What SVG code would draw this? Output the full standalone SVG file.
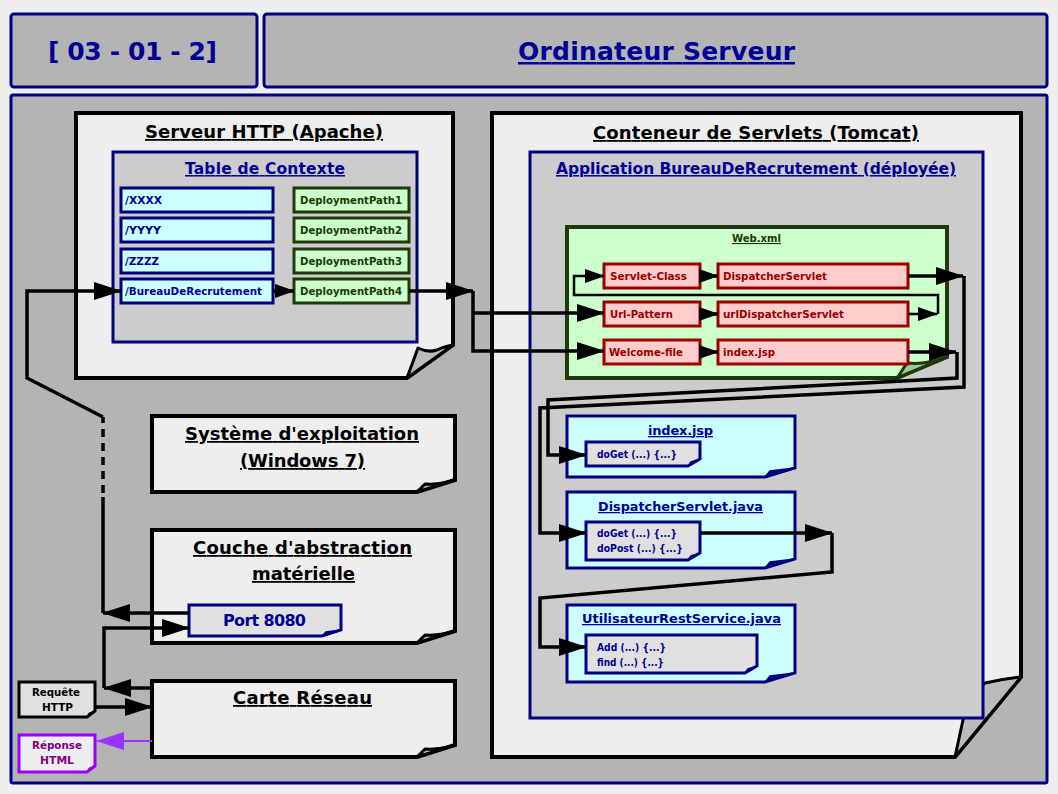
<svg xmlns="http://www.w3.org/2000/svg" width="1058" height="794" viewBox="0 0 1058 794">
<style>
text{font-family:"DejaVu Sans","Liberation Sans",Arial,sans-serif;font-weight:bold}
.hdr{fill:#b4b4b4;stroke:#000080;stroke-width:3}
.note{fill:#eeeeee;stroke:#000;stroke-width:4;stroke-linejoin:miter}
.flap{fill:#bbbbbb;stroke:#000;stroke-width:3;stroke-linejoin:round}
.cont{fill:#cccccc;stroke:#000080;stroke-width:3}
.cy{fill:#ccffff;stroke:#000080;stroke-width:3}
.gr{fill:#ccffcc;stroke:#1e3a0c;stroke-width:3}
.rd{fill:#ffcccc;stroke:#990000;stroke-width:3}
.meth{fill:#e0e0e0;stroke:#000080;stroke-width:3}
.nflap{fill:#000080;stroke:#000080;stroke-width:1.5}
.big{font-size:18px;fill:#000;text-decoration:underline}
.navyT{fill:#000099;text-decoration:underline}
.cyT{font-size:11px;fill:#000099}
.grT{font-size:11px;fill:#1a3a00}
.rdT{font-size:11px;fill:#990000}
.mT{font-size:10.5px;fill:#000099}
.ln{fill:none;stroke:#000;stroke-width:3.5}
.thin{fill:none;stroke:#000;stroke-width:2.5}
</style>
<defs>
<marker id="ab" markerUnits="userSpaceOnUse" markerWidth="28" markerHeight="18" refX="27" refY="9" orient="auto"><path d="M0,0 L28,9 L0,18 Z" fill="#000"/></marker>
<marker id="as" markerUnits="userSpaceOnUse" markerWidth="20" markerHeight="14" refX="19" refY="7" orient="auto"><path d="M0,0 L20,7 L0,14 Z" fill="#000"/></marker>
<marker id="ap" markerUnits="userSpaceOnUse" markerWidth="28" markerHeight="18" refX="27" refY="9" orient="auto"><path d="M0,0 L28,9 L0,18 Z" fill="#9933ff"/></marker>
</defs>
<rect x="0" y="0" width="1058" height="794" fill="#eeeeee"/>

<g id="header-code">
<rect class="hdr" x="11" y="14" width="246" height="73" rx="3"/>
<text x="48" y="60" font-size="25" fill="#000099" textLength="169" lengthAdjust="spacing">[ 03 - 01 - 2]</text>
</g>
<g id="header-title">
<rect class="hdr" x="264" y="14" width="783" height="73" rx="3"/>
<text x="518" y="60" font-size="25" fill="#000099" text-decoration="underline" textLength="277" lengthAdjust="spacing">Ordinateur Serveur</text>
</g>
<g id="main-frame">
<rect class="hdr" x="11" y="95" width="1036" height="688" rx="2"/>
</g>

<g id="apache">
<path class="note" d="M76,113 H453 V345 L407,378 H76 Z"/>
<path class="flap" d="M407,378 L418,348 Q428,353 437,350 Q446,346 453,345 Z"/>
<text class="big" x="145" y="138" textLength="238" lengthAdjust="spacing">Serveur HTTP (Apache)</text>
</g>
<g id="table-contexte">
<rect class="cont" x="113" y="152" width="304" height="190"/>
<text class="navyT" x="185" y="174" font-size="15.5" textLength="160" lengthAdjust="spacing">Table de Contexte</text>
</g>
<g id="ctx-xxxx"><rect class="cy" x="121" y="188" width="152" height="24"/><text class="cyT" x="125" y="204" textLength="37" lengthAdjust="spacingAndGlyphs">/XXXX</text></g>
<g id="ctx-yyyy"><rect class="cy" x="121" y="218" width="152" height="24"/><text class="cyT" x="125" y="234" textLength="36" lengthAdjust="spacingAndGlyphs">/YYYY</text></g>
<g id="ctx-zzzz"><rect class="cy" x="121" y="249" width="152" height="24"/><text class="cyT" x="125" y="265" textLength="34" lengthAdjust="spacingAndGlyphs">/ZZZZ</text></g>
<g id="ctx-bureau"><rect class="cy" x="121" y="279" width="152" height="24"/><text class="cyT" x="125" y="295" textLength="137" lengthAdjust="spacingAndGlyphs">/BureauDeRecrutement</text></g>
<g id="dp1"><rect class="gr" x="294" y="188" width="115" height="24"/><text class="grT" x="300" y="204" textLength="102" lengthAdjust="spacingAndGlyphs">DeploymentPath1</text></g>
<g id="dp2"><rect class="gr" x="294" y="218" width="115" height="24"/><text class="grT" x="300" y="234" textLength="102" lengthAdjust="spacingAndGlyphs">DeploymentPath2</text></g>
<g id="dp3"><rect class="gr" x="294" y="249" width="115" height="24"/><text class="grT" x="300" y="265" textLength="102" lengthAdjust="spacingAndGlyphs">DeploymentPath3</text></g>
<g id="dp4"><rect class="gr" x="294" y="279" width="115" height="24"/><text class="grT" x="300" y="295" textLength="102" lengthAdjust="spacingAndGlyphs">DeploymentPath4</text></g>

<g id="os">
<path class="note" d="M152,416 H455 V480 L417,492 H152 Z"/>
<path class="flap" d="M417,492 L425,484 Q440,485 455,480 Z"/>
<text class="big" x="185" y="440" textLength="234" lengthAdjust="spacing">Système d'exploitation</text>
<text class="big" x="240" y="467" textLength="125" lengthAdjust="spacing">(Windows 7)</text>
</g>
<g id="couche">
<path class="note" d="M152,530 H455 V631 L417,643 H152 Z"/>
<path class="flap" d="M417,643 L425,635 Q440,636 455,631 Z"/>
<text class="big" x="193" y="554" textLength="219" lengthAdjust="spacing">Couche d'abstraction</text>
<text class="big" x="252" y="580" textLength="103" lengthAdjust="spacing">matérielle</text>
</g>
<g id="port">
<path class="meth" d="M189,605 H341 V630 L322,636 H189 Z"/>
<path class="nflap" d="M322,636 L326,632 L341,630 Z"/>
<text x="223" y="626" font-size="16" fill="#000099" textLength="83" lengthAdjust="spacing">Port 8080</text>
</g>
<g id="carte">
<path class="note" d="M152,681 H455 V745 L417,757 H152 Z"/>
<path class="flap" d="M417,757 L425,749 Q440,750 455,745 Z"/>
<text class="big" x="233" y="704" textLength="139" lengthAdjust="spacing">Carte Réseau</text>
</g>
<g id="requete">
<path d="M19,682 H95 V711 L87,717 H19 Z" fill="#e0e0e0" stroke="#000" stroke-width="3"/>
<path d="M87,717 L89,713 L95,711 Z" fill="#000" stroke="#000" stroke-width="1"/>
<text x="32" y="696" font-size="10.5" fill="#000" textLength="48" lengthAdjust="spacingAndGlyphs">Requête</text>
<text x="42" y="711" font-size="10.5" fill="#000" textLength="31" lengthAdjust="spacingAndGlyphs">HTTP</text>
</g>
<g id="reponse">
<path d="M19,735 H95 V766 L87,772 H19 Z" fill="#eeeeee" stroke="#9900ff" stroke-width="3"/>
<path d="M87,772 L89,768 L95,766 Z" fill="#9900ff" stroke="#9900ff" stroke-width="1"/>
<text x="32" y="749" font-size="10.5" fill="#800080" textLength="50" lengthAdjust="spacingAndGlyphs">Réponse</text>
<text x="40" y="764" font-size="10.5" fill="#800080" textLength="34" lengthAdjust="spacingAndGlyphs">HTML</text>
</g>

<g id="tomcat">
<path class="note" d="M492,113 H1021 V677 L955,757 H492 Z"/>
<path class="flap" d="M955,757 L963,720 Q972,692 985,683 Q1003,679 1021,677 Z"/>
<text class="big" x="593" y="139" textLength="326" lengthAdjust="spacing">Conteneur de Servlets (Tomcat)</text>
</g>
<g id="application">
<rect class="cont" x="530" y="152" width="453" height="566"/>
<text class="navyT" x="556" y="174" font-size="15.5" textLength="400" lengthAdjust="spacing">Application BureauDeRecrutement (déployée)</text>
</g>
<g id="webxml">
<path d="M567,227 H947 V357 L897,378 H567 Z" fill="#ccffcc" stroke="#1e3a0c" stroke-width="4"/>
<path d="M897,378 L907,363 Q926,365 947,357 Z" fill="#99cc99" stroke="#1e3a0c" stroke-width="3" stroke-linejoin="round"/>
<text x="732" y="242" font-size="11" fill="#1a3a00" text-decoration="underline" textLength="49" lengthAdjust="spacingAndGlyphs">Web.xml</text>
</g>
<g id="servlet-class"><rect class="rd" x="604" y="264" width="96" height="24"/><text class="rdT" x="610" y="280" textLength="77" lengthAdjust="spacingAndGlyphs">Servlet-Class</text></g>
<g id="dispatcher-servlet"><rect class="rd" x="718" y="264" width="190" height="24"/><text class="rdT" x="723" y="280" textLength="104" lengthAdjust="spacingAndGlyphs">DispatcherServlet</text></g>
<g id="url-pattern"><rect class="rd" x="604" y="302" width="96" height="24"/><text class="rdT" x="610" y="318" textLength="63" lengthAdjust="spacingAndGlyphs">Url-Pattern</text></g>
<g id="url-dispatcher"><rect class="rd" x="718" y="302" width="190" height="24"/><text class="rdT" x="723" y="318" textLength="121" lengthAdjust="spacingAndGlyphs">urlDispatcherServlet</text></g>
<g id="welcome-file"><rect class="rd" x="604" y="340" width="96" height="24"/><text class="rdT" x="609" y="356" textLength="74" lengthAdjust="spacingAndGlyphs">Welcome-file</text></g>
<g id="welcome-index"><rect class="rd" x="718" y="340" width="190" height="24"/><text class="rdT" x="723" y="356" textLength="52" lengthAdjust="spacingAndGlyphs">index.jsp</text></g>

<g id="index-jsp">
<path class="cy" d="M567,416 H795 V468 L765,477 H567 Z"/>
<path class="nflap" d="M765,477 L770,471 L795,468 Z"/>
<text class="navyT" x="648" y="435" font-size="13" textLength="65" lengthAdjust="spacing">index.jsp</text>
<path class="meth" d="M586,442 H700 V459 L688,466 H586 Z"/>
<path class="nflap" d="M688,466 L691,462 L700,459 Z"/>
<text class="mT" x="597" y="458" textLength="80" lengthAdjust="spacingAndGlyphs">doGet (...) {...}</text>
</g>
<g id="dispatcher-java">
<path class="cy" d="M567,492 H795 V559 L765,568 H567 Z"/>
<path class="nflap" d="M765,568 L770,562 L795,559 Z"/>
<text class="navyT" x="598" y="511" font-size="13" textLength="165" lengthAdjust="spacingAndGlyphs">DispatcherServlet.java</text>
<path class="meth" d="M586,522 H700 V553 L688,560 H586 Z"/>
<path class="nflap" d="M688,560 L691,556 L700,553 Z"/>
<text class="mT" x="597" y="537" textLength="80" lengthAdjust="spacingAndGlyphs">doGet (...) {...}</text>
<text class="mT" x="597" y="552" textLength="86" lengthAdjust="spacingAndGlyphs">doPost (...) {...}</text>
</g>
<g id="utilisateur-java">
<path class="cy" d="M567,605 H795 V673 L765,682 H567 Z"/>
<path class="nflap" d="M765,682 L770,676 L795,673 Z"/>
<text class="navyT" x="582" y="623" font-size="13" textLength="199" lengthAdjust="spacingAndGlyphs">UtilisateurRestService.java</text>
<path class="meth" d="M586,635 H757 V666 L745,673 H586 Z"/>
<path class="nflap" d="M745,673 L748,669 L757,666 Z"/>
<text class="mT" x="597" y="651" textLength="69" lengthAdjust="spacingAndGlyphs">Add (...) {...}</text>
<text class="mT" x="597" y="666" textLength="67" lengthAdjust="spacingAndGlyphs">find (...) {...}</text>
</g>

<g id="connectors">
<path class="ln" d="M189,613 H103" marker-end="url(#ab)"/>
<path class="ln" d="M103,613 V497"/>
<path class="ln" d="M103,493 V417" stroke-dasharray="8,6"/>
<path class="ln" d="M103,417 L27,378 V291 H121" marker-end="url(#ab)"/>
<path class="ln" d="M152,688 H104" marker-end="url(#ab)"/>
<path class="ln" d="M104,688 V628 H189" marker-end="url(#ab)"/>
<path class="ln" d="M95,707 H152" marker-end="url(#ab)"/>
<path d="M152,741 H97" fill="none" stroke="#9933ff" stroke-width="2" marker-end="url(#ap)"/>
<path class="ln" d="M273,291 H294" marker-end="url(#as)"/>
<path class="ln" d="M409,291 H473" marker-end="url(#ab)"/>
<path class="ln" d="M473,291 V351 H604" marker-end="url(#ab)"/>
<path class="ln" d="M473,313 H604" marker-end="url(#ab)"/>
<path class="ln" d="M700,276 H718" marker-end="url(#as)"/>
<path class="ln" d="M700,314 H718" marker-end="url(#as)"/>
<path class="ln" d="M700,352 H718" marker-end="url(#as)"/>
<path class="thin" d="M908,314 H937" marker-end="url(#as)"/>
<path class="thin" d="M938,314 V295 H574 V276 H604" marker-end="url(#as)"/>
<path class="ln" d="M908,276 H963" marker-end="url(#ab)"/>
<path class="ln" d="M964,276 V387 L540,408 V533 H586" marker-end="url(#ab)"/>
<path class="ln" d="M908,352 H956" marker-end="url(#ab)"/>
<path class="ln" d="M957,352 V378 L548,400 V455 H586" marker-end="url(#ab)"/>
<path class="ln" d="M700,533 H832" marker-end="url(#ab)"/>
<path class="ln" d="M832,533 V572 L540,598 V647 H586" marker-end="url(#ab)"/>
</g>
</svg>
